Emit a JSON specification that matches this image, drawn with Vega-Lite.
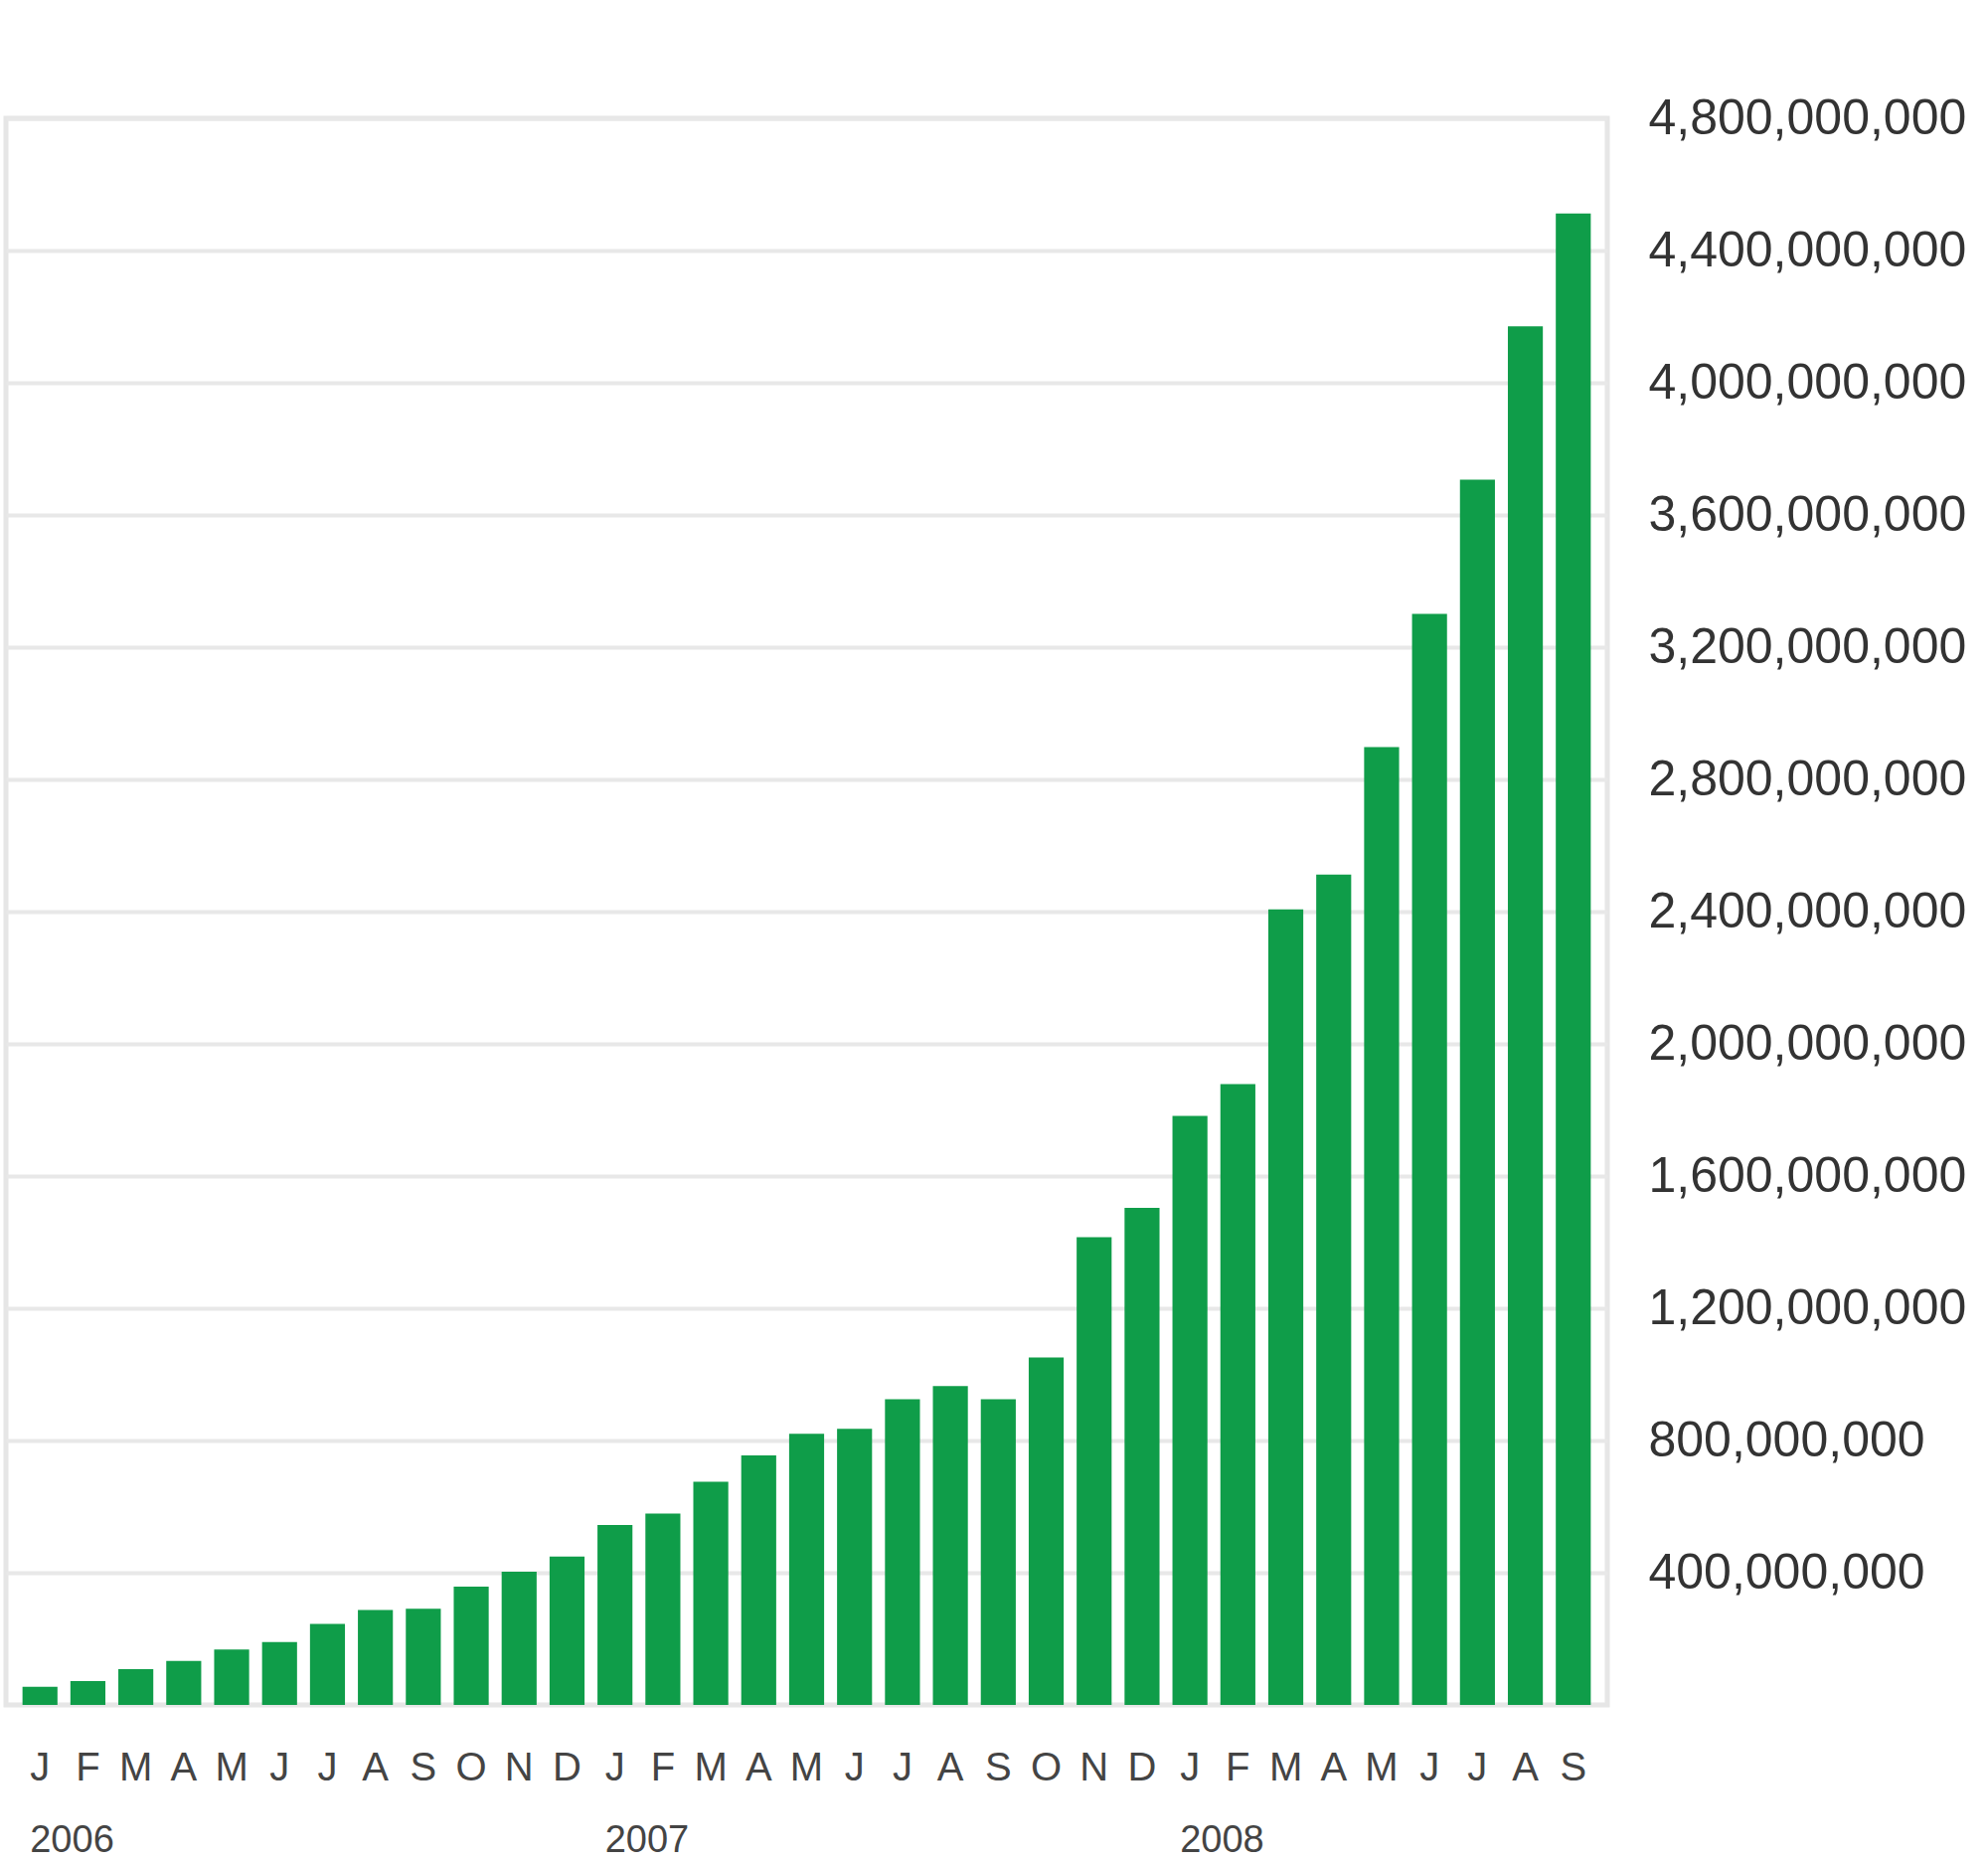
{
  "$schema": "https://vega.github.io/schema/vega-lite/v6.json",
  "width": 1611,
  "height": 1596,
  "autosize": {"type": "none"},
  "padding": {"left": 6, "top": 119, "right": 383, "bottom": 158},
  "background": "white",
  "config": {
    "view": {"stroke": "#e6e6e6", "strokeWidth": 5},
    "font": "Liberation Sans"
  },
  "data": {
    "values": [
      {"month": "2006-01", "value": 55000000},
      {"month": "2006-02", "value": 72000000},
      {"month": "2006-03", "value": 108000000},
      {"month": "2006-04", "value": 133000000},
      {"month": "2006-05", "value": 168000000},
      {"month": "2006-06", "value": 190000000},
      {"month": "2006-07", "value": 245000000},
      {"month": "2006-08", "value": 287000000},
      {"month": "2006-09", "value": 291000000},
      {"month": "2006-10", "value": 358000000},
      {"month": "2006-11", "value": 403000000},
      {"month": "2006-12", "value": 449000000},
      {"month": "2007-01", "value": 544000000},
      {"month": "2007-02", "value": 579000000},
      {"month": "2007-03", "value": 675000000},
      {"month": "2007-04", "value": 755000000},
      {"month": "2007-05", "value": 820000000},
      {"month": "2007-06", "value": 835000000},
      {"month": "2007-07", "value": 925000000},
      {"month": "2007-08", "value": 965000000},
      {"month": "2007-09", "value": 925000000},
      {"month": "2007-10", "value": 1051000000},
      {"month": "2007-11", "value": 1415000000},
      {"month": "2007-12", "value": 1504000000},
      {"month": "2008-01", "value": 1782000000},
      {"month": "2008-02", "value": 1878000000},
      {"month": "2008-03", "value": 2407000000},
      {"month": "2008-04", "value": 2512000000},
      {"month": "2008-05", "value": 2898000000},
      {"month": "2008-06", "value": 3301000000},
      {"month": "2008-07", "value": 3707000000},
      {"month": "2008-08", "value": 4171000000},
      {"month": "2008-09", "value": 4512000000}
    ]
  },
  "layer": [
    {
      "mark": {"type": "bar", "color": "#0f9d49"},
      "encoding": {
        "x": {
          "field": "month",
          "type": "ordinal",
          "sort": null,
          "scale": {"paddingInner": 0.27, "paddingOuter": 0.345},
          "axis": {
            "title": null,
            "orient": "bottom",
            "domain": false,
            "ticks": false,
            "grid": false,
            "labelAngle": 0,
            "labelOverlap": false,
            "labelPadding": 43,
            "labelFontSize": 40,
            "labelColor": "#444",
            "labelExpr": "['J','F','M','A','M','J','J','A','S','O','N','D'][toNumber(slice(datum.value,5,7))-1]"
          }
        },
        "y": {
          "field": "value",
          "type": "quantitative",
          "scale": {"domain": [0, 4800000000], "nice": false},
          "axis": {
            "title": null,
            "orient": "right",
            "values": [400000000, 800000000, 1200000000, 1600000000, 2000000000, 2400000000, 2800000000, 3200000000, 3600000000, 4000000000, 4400000000, 4800000000],
            "format": ",d",
            "domain": false,
            "ticks": false,
            "grid": true,
            "gridColor": "#e8e8e8",
            "gridWidth": 4,
            "labelAlign": "left",
            "labelBaseline": "middle",
            "labelPadding": 41,
            "labelFontSize": 50,
            "labelLimit": 0,
            "labelColor": "#333"
          }
        }
      }
    },
    {
      "mark": {"type": "bar", "opacity": 0},
      "encoding": {
        "x": {
          "field": "month",
          "type": "ordinal",
          "sort": null,
          "scale": {"paddingInner": 0.27, "paddingOuter": 0.345},
          "axis": {
            "title": null,
            "orient": "bottom",
            "domain": false,
            "ticks": false,
            "grid": false,
            "labelAngle": 0,
            "labelOverlap": false,
            "labelAlign": "left",
            "labelOffset": -10,
            "labelPadding": 117,
            "labelFontSize": 38,
            "labelColor": "#444",
            "labelExpr": "slice(datum.value,5,7) == '01' ? slice(datum.value,0,4) : ''"
          }
        },
        "y": {
          "field": "value",
          "type": "quantitative",
          "scale": {"domain": [0, 4800000000], "nice": false}
        }
      }
    }
  ],
  "resolve": {"axis": {"x": "independent"}}
}
